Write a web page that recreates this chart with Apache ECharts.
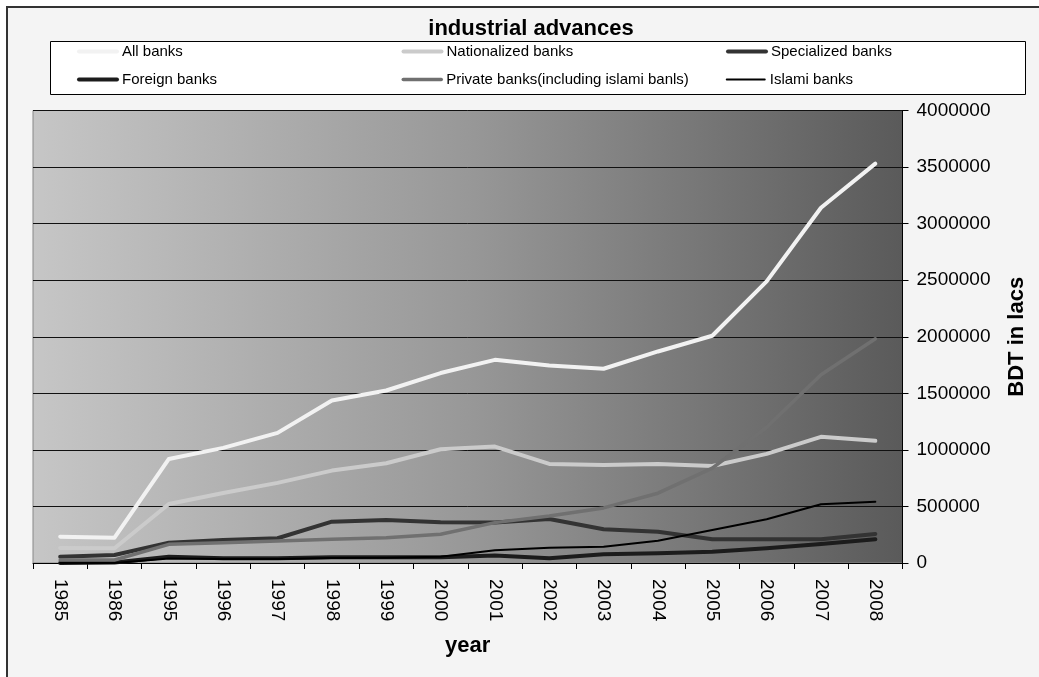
<!DOCTYPE html>
<html>
<head>
<meta charset="utf-8">
<script src="https://cdn.jsdelivr.net/npm/echarts@6/dist/echarts.min.js"></script>
<style>
html,body{margin:0;padding:0;background:#ffffff;}
#chart{width:1039px;height:677px;}
</style>
</head>
<body>
<div id="chart"></div>
<script>
// ---- data ----
const years = ['1985','1986','1995','1996','1997','1998','1999','2000','2001','2002','2003','2004','2005','2006','2007','2008'];
const allBanks     = [233000, 224000, 920000, 1018000, 1150000, 1436000, 1525000, 1679000, 1796000, 1746000, 1717000, 1870000, 2009000, 2490000, 3140000, 3530000];
const nationalized = [133000, 130000, 522000, 619000, 708000, 817000, 882000, 1006000, 1029000, 876000, 867000, 876000, 858000, 965000, 1115000, 1080000];
const specialized  = [56000, 71000, 180000, 204000, 219000, 365000, 380000, 360000, 357000, 389000, 298000, 277000, 210000, 210000, 210000, 257000];
const foreign      = [0, 5000, 56000, 42000, 42000, 50000, 50000, 50000, 66000, 42000, 78000, 86000, 100000, 130000, 168000, 210000];
const privateBanks = [27000, 27000, 165000, 180000, 195000, 210000, 224000, 254000, 357000, 415000, 487000, 617000, 838000, 1200000, 1664000, 1982000];
const islami       = [0, 0, 40000, 35000, 36000, 45000, 47000, 56000, 112000, 135000, 144000, 197000, 292000, 387000, 519000, 542000];
const seriesNames = ['All banks', 'Nationalized banks', 'Specialized banks', 'Foreign banks', 'Private banks(including islami banls)', 'Islami banks'];
const yTicks = { min: 0, max: 4000000, interval: 500000 };

// ---- styling ----
const FONT = 'Liberation Sans, Arial, Helvetica, sans-serif';
const colors = ['#f2f2f2', '#cbcbcb', '#333333', '#1c1c1c', '#707070', '#000000'];
const widths = [4, 4, 4, 4, 3.5, 2];
const seriesData = [allBanks, nationalized, specialized, foreign, privateBanks, islami];

const chart = echarts.init(document.getElementById('chart'), null, { renderer: 'canvas' });

const option = {
  backgroundColor: '#ffffff',
  animation: false,
  graphic: [
    { type: 'rect', z: -10, silent: true, shape: { x: 7, y: 7, width: 1040, height: 680 }, style: { fill: '#f4f4f4', stroke: '#333333', lineWidth: 2 } },
    { type: 'rect', z: 1, silent: true, shape: { x: 50.5, y: 41.5, width: 975, height: 53 }, style: { fill: '#ffffff', stroke: '#000000', lineWidth: 1 } }
  ],
  title: {
    text: 'industrial advances',
    left: 531,
    textAlign: 'center',
    top: 18,
    padding: 0,
    textStyle: { fontFamily: FONT, fontSize: 22, fontWeight: 'bold', color: '#000' }
  },
  legend: {
    z: 10,
    left: 77,
    top: 37.5,
    width: 1000,
    padding: 0,
    itemWidth: 38,
    itemHeight: 14,
    itemGap: 0,
    itemStyle: { opacity: 0 },
    textStyle: { fontFamily: FONT, fontSize: 15, color: '#000', width: 279.5, lineHeight: 28, overflow: 'truncate' },
    data: seriesNames.map((n, i) => ({ name: n, lineStyle: { width: widths[i], color: colors[i] } }))
  },
  grid: {
    left: 33,
    right: 136.5,
    top: 110.5,
    bottom: 114,
    show: true,
    borderColor: '#888888',
    borderWidth: 1,
    backgroundColor: {
      type: 'linear', x: 0, y: 0, x2: 1, y2: 0,
      colorStops: [
        { offset: 0, color: '#c6c6c6' },
        { offset: 0.5, color: '#989898' },
        { offset: 1, color: '#5a5a5a' }
      ]
    }
  },
  xAxis: {
    type: 'category',
    data: years,
    boundaryGap: true,
    name: 'year',
    nameLocation: 'middle',
    nameGap: 72,
    nameTextStyle: { fontFamily: FONT, fontSize: 22, fontWeight: 'bold', color: '#000' },
    axisLine: { show: true, lineStyle: { color: '#000', width: 1 } },
    axisTick: { show: true, length: 6, lineStyle: { color: '#000' } },
    axisLabel: { rotate: -90, margin: 16, fontFamily: FONT, fontSize: 19, color: '#000', interval: 0 },
    splitLine: { show: false }
  },
  yAxis: {
    type: 'value',
    position: 'right',
    min: yTicks.min,
    max: yTicks.max,
    interval: yTicks.interval,
    name: 'BDT in lacs',
    nameLocation: 'middle',
    nameRotate: 90,
    nameGap: 103,
    nameTextStyle: { fontFamily: FONT, fontSize: 22, fontWeight: 'bold', color: '#000' },
    axisLine: { show: true, lineStyle: { color: '#000', width: 1 } },
    axisTick: { show: true, length: 6, lineStyle: { color: '#000' } },
    axisLabel: { margin: 14, fontFamily: FONT, fontSize: 19, color: '#000', formatter: v => String(v) },
    splitLine: { show: true, lineStyle: { color: '#111', width: 1 } }
  },
  series: seriesNames.map((n, i) => ({
    name: n,
    type: 'line',
    data: seriesData[i],
    symbol: 'none',
    showSymbol: false,
    smooth: false,
    lineStyle: { color: colors[i], width: widths[i], join: 'round', cap: 'round' },
    itemStyle: { color: colors[i] },
    emphasis: { disabled: true }
  }))
};

chart.setOption(option);
</script>
</body>
</html>
